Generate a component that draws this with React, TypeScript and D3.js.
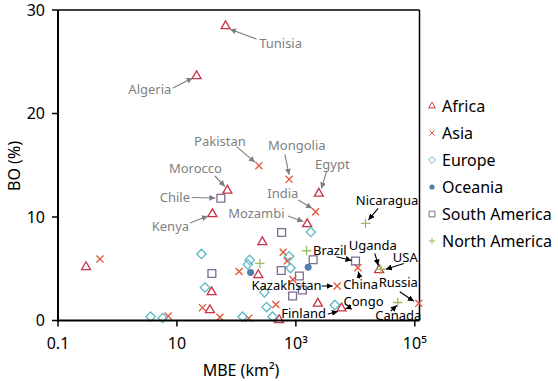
import React from 'react';
import * as d3 from 'd3';

const categories = ['Africa', 'Asia', 'Europe', 'Oceania', 'South America', 'North America'];

const africaMBE = [0.296, 21.4, 65.8, 70.6, 39.5, 38.3, 35.9, 273, 234, 523, 1549, 2436, 2344, 5863, 25100];
const africaBO = [5.17, 23.62, 28.45, 12.56, 10.29, 2.75, 1.01, 7.58, 4.4, 0.05, 9.32, 12.27, 1.64, 1.18, 4.88];

const asiaMBE = [0.508, 7.14, 26.9, 52.8, 111, 161, 239, 461, 612, 714, 891, 771, 2143, 4943, 11020, 116700];
const asiaBO = [5.94, 0.43, 1.24, 0.31, 4.73, 0.21, 14.96, 1.55, 6.59, 5.75, 3.96, 13.64, 10.51, 3.33, 5.1, 1.66];

const europeMBE = [3.61, 5.75, 25.8, 29.6, 127, 167, 156, 296, 322, 406, 771, 814, 1786, 4520];
const europeBO = [0.37, 0.24, 6.43, 3.19, 0.37, 5.85, 5.41, 2.72, 1.3, 0.37, 6.2, 5.07, 8.55, 1.5];

const oceaniaMBE = [173, 1610];
const oceaniaBO = [4.64, 5.14];

const southAmericaMBE = [54.8, 38.7, 576, 567, 1146, 881, 1285, 1954, 10070];
const southAmericaBO = [11.81, 4.54, 8.5, 4.83, 4.3, 2.37, 2.95, 5.87, 5.75];

const northAmericaMBE = [248, 1514, 14830, 26850, 51760];
const northAmericaBO = [5.51, 6.74, 9.39, 4.95, 1.74];

const xTicks = [0.1, 10, 1000, 100000];
const xTickLabels = ['0.1', '10', '10³', '10⁵'];
const yTicks = [0, 10, 20, 30];

// country labels: [name, category, point index]
const labelNames = [
  ['Tunisia', 'Africa', 2], ['Algeria', 'Africa', 1], ['Morocco', 'Africa', 3], ['Kenya', 'Africa', 4],
  ['Mozambi', 'Africa', 10], ['Egypt', 'Africa', 11], ['Congo', 'Africa', 13], ['Uganda', 'Africa', 14],
  ['Pakistan', 'Asia', 6], ['Mongolia', 'Asia', 11], ['India', 'Asia', 12], ['Kazakhstan', 'Asia', 13],
  ['China', 'Asia', 14], ['Russia', 'Asia', 15], ['Finland', 'Europe', 13], ['Chile', 'South America', 0],
  ['Brazil', 'South America', 8], ['Nicaragua', 'North America', 2], ['USA', 'North America', 3],
  ['Canada', 'North America', 4],
] as [string, string, number][];

// layout of labels relative to their point (pixels): label dx, dy, arrow start, arrow end, gray?
const labelLayout: Record<string, number[]> = {
  Tunisia: [55, 17, 31, 13, 4.5, 3.3, 1],
  Algeria: [-46.7, 13.3, -23.7, 12, -4, 2, 1],
  Morocco: [-32, -22, -12.5, -14.5, -2.5, -4, 1],
  Kenya: [-42, 12.7, -22.5, 9, -4.5, 2, 1],
  Mozambi: [-50.8, -10.7, -19.3, -8, -4, -2.5, 1],
  Egypt: [13.5, -29.5, 7.7, -21.8, 2.5, -5, 1],
  Congo: [22, -6.5, 8, -1, 4, 0.5, 0],
  Uganda: [-6.3, -25, -4.3, -16.7, -0.8, -4.5, 0],
  Pakistan: [-39, -24, -22.3, -19, -4, -3.5, 1],
  Mongolia: [7.7, -34.3, -4.3, -25, 0, -4.5, 1],
  India: [-32.7, -18.4, -17.4, -11.7, -3.5, -3.5, 1],
  Kazakhstan: [-50.6, -1, -15.3, 0, -4.5, 0, 0],
  China: [2.8, 17.2, 2, 11, 0.5, 4, 0],
  Russia: [-20.5, -20.6, -19, -11.6, -5, -2, 0],
  Finland: [-31.2, 8.3, -7, 9, 3, 6.5, 0],
  Chile: [-46, -1, -29, -0.8, -5.5, -0.3, 1],
  Brazil: [-25.7, -10.3, -19, -4.3, -4, -0.5, 0],
  Nicaragua: [21.5, -23.3, 12.6, -15, 3, -3.5, 0],
  USA: [24.5, -12.3, 23, -5.8, 5, 0, 0],
  Canada: [0.5, 12.5, -7, 8.5, -1, 3, 0],
};

const seriesX: Record<string, number[]> = {
  Africa: africaMBE, Asia: asiaMBE, Europe: europeMBE, Oceania: oceaniaMBE,
  'South America': southAmericaMBE, 'North America': northAmericaMBE,
};
const seriesY: Record<string, number[]> = {
  Africa: africaBO, Asia: asiaBO, Europe: europeBO, Oceania: oceaniaBO,
  'South America': southAmericaBO, 'North America': northAmericaBO,
};

const colors: Record<string, string> = {
  Africa: '#C8334A',
  Asia: '#E2553A',
  Europe: '#5DB9C2',
  Oceania: '#4E7DAE',
  'South America': '#7E6C93',
  'North America': '#9DBE5C',
};

const symbols: Record<string, [d3.SymbolType, number, boolean]> = {
  Africa: [d3.symbolTriangle2, 58, false],
  Asia: [d3.symbolX, 34, false],
  Europe: [d3.symbolDiamond2, 56, false],
  Oceania: [d3.symbolCircle, 38, true],
  'South America': [d3.symbolSquare2, 78, false],
  'North America': [d3.symbolPlus, 30, false],
};

const W = 558, H = 381;
const FONT = '"Noto Sans", "Open Sans", sans-serif';

export default function App() {
  const x = d3.scaleLog().domain([0.1, 120000]).range([58, 419.5]);
  const y = d3.scaleLinear().domain([0, 30]).range([320.5, 10]);

  const sym = (cat: string, scale = 1) => {
    const [t, s] = symbols[cat];
    return d3.symbol().type(t).size(s * scale)() as string;
  };

  return (
    <svg width={W} height={H} style={{ position: 'absolute', left: 0, top: 0, background: '#fff' }} fontFamily={FONT}>
      <defs>
        <marker id="ahGray" viewBox="0 0 10 10" refX="10" refY="5" markerWidth="6" markerHeight="6" markerUnits="userSpaceOnUse" orient="auto">
          <path d="M0,0 L10,5 L0,10 z" fill="#7f7f7f" />
        </marker>
        <marker id="ahBlack" viewBox="0 0 10 10" refX="10" refY="5" markerWidth="6" markerHeight="6" markerUnits="userSpaceOnUse" orient="auto">
          <path d="M0,0 L10,5 L0,10 z" fill="#000" />
        </marker>
      </defs>

      {/* frame */}
      <line x1={x.range()[0]} x2={x.range()[1]} y1={y(30)} y2={y(30)} stroke="#000" strokeWidth={1.5} />
      <line x1={x.range()[1]} x2={x.range()[1]} y1={y(30)} y2={y(0)} stroke="#000" strokeWidth={1.5} />

      {/* points */}
      {categories.map((cat) => {
        const xs = seriesX[cat];
        const ys = seriesY[cat];
        const filled = symbols[cat][2];
        const d = sym(cat);
        return (
          <g key={cat}>
            {xs.map((v, i) => (
              <path
                key={i}
                d={d}
                transform={`translate(${x(v)},${y(ys[i])})`}
                fill={filled ? colors[cat] : 'none'}
                stroke={filled ? 'none' : colors[cat]}
                strokeWidth={1.3}
              />
            ))}
          </g>
        );
      })}

      {/* axes */}
      <line x1={58} x2={58} y1={y(30)} y2={y(0) + 1} stroke="#000" strokeWidth={2} />
      <line x1={57} x2={x.range()[1]} y1={y(0)} y2={y(0)} stroke="#000" strokeWidth={2} />
      {yTicks.map((t) => (
        <g key={t}>
          <line x1={52} x2={58} y1={y(t)} y2={y(t)} stroke="#000" strokeWidth={1.5} />
          <text x={45} y={y(t)} dy="0.35em" textAnchor="end" fontSize={16} fill="#000">{t}</text>
        </g>
      ))}
      {xTicks.map((t, i) => (
        <g key={t}>
          <line x1={x(t)} x2={x(t)} y1={y(0)} y2={y(0) + 6} stroke="#000" strokeWidth={1.5} />
          <text x={x(t)} y={349} textAnchor="middle" fontSize={16} fill="#000">{xTickLabels[i]}</text>
        </g>
      ))}
      <text x={241} y={376} textAnchor="middle" fontSize={16} fill="#000">MBE (km²)</text>
      <text transform="translate(20,166) rotate(-90)" textAnchor="middle" fontSize={16} fill="#000">BO (%)</text>

      {/* annotations */}
      {labelNames.map(([name, cat, idx]) => {
        const [ldx, ldy, sx, sy, ex, ey, gray] = labelLayout[name];
        const px = x(seriesX[cat][idx]);
        const py = y(seriesY[cat][idx]);
        const c = gray ? '#7f7f7f' : '#000';
        return (
          <g key={name}>
            <line x1={px + sx} y1={py + sy} x2={px + ex} y2={py + ey} stroke={c} strokeWidth={1.1}
              markerEnd={`url(#${gray ? 'ahGray' : 'ahBlack'})`} />
            <text x={px + ldx} y={py + ldy} dy="0.35em" textAnchor="middle" fontSize={13} fill={c}>{name}</text>
          </g>
        );
      })}

      {/* legend */}
      {categories.map((cat, i) => {
        const ly = 106 + i * 27;
        const filled = symbols[cat][2];
        return (
          <g key={cat} transform={`translate(432,${ly})`}>
            <path d={sym(cat, 0.55)} fill={filled ? colors[cat] : 'none'} stroke={filled ? 'none' : colors[cat]} strokeWidth={1} />
            <text x={10} dy="0.35em" fontSize={16} fill="#000">{cat}</text>
          </g>
        );
      })}
    </svg>
  );
}
